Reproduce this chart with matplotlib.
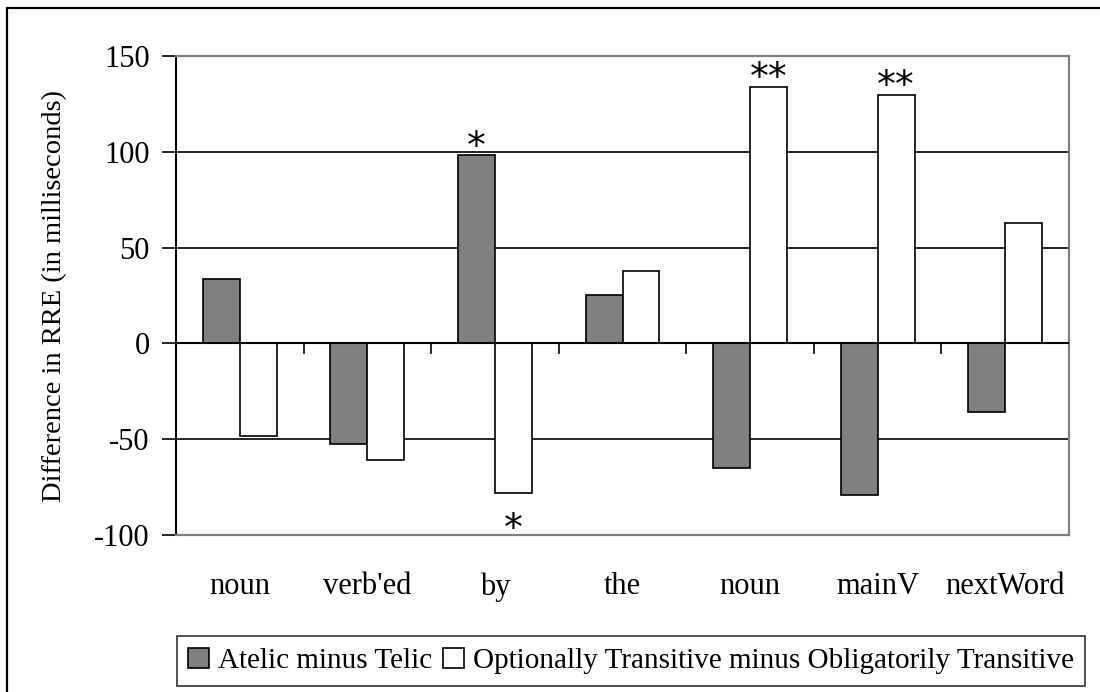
import numpy as np
import matplotlib
matplotlib.use('Agg')
import matplotlib.pyplot as plt
from matplotlib.patches import Rectangle

plt.rcParams['font.family'] = ['Liberation Serif', 'DejaVu Serif']

# datos
palabras = ['noun', "verb'ed", 'by', 'the', 'noun', 'mainV', 'nextWord']
atelic_telic = [33.6, -52.4, 98.1, 25.3, -65.0, -79.0, -35.7]
opt_oblig = [-48.5, -61.0, -78.2, 38.0, 134.0, 129.8, 62.9]
nombres = ['Atelic minus Telic', 'Optionally Transitive minus Obligatorily Transitive']
# asteriscos: (indice, serie, texto)
marcas = [(2, 0, '*'), (2, 1, '*'), (4, 1, '**'), (5, 1, '**')]

x = np.arange(len(palabras))
w = 0.29

fig = plt.figure(figsize=(11, 6.92), dpi=100)
ax = fig.add_axes([176/1100, 1 - 535/692, (1069-176)/1100, (535-56)/692])

# marco de la figura
fig.patches.append(Rectangle((7/1100, -0.05), 1.1, 1 - 8/692 + 0.05,
                             transform=fig.transFigure, fill=False,
                             edgecolor='black', linewidth=1.6))

ax.set_ylim(-100, 150)
ax.set_xlim(-0.5, len(palabras) - 0.5)
for yv in [-50, 50, 100]:
    ax.axhline(yv, color='black', linewidth=1.2, zorder=1)

b1 = ax.bar(x - w/2, atelic_telic, w, color='#808080', edgecolor='black',
            linewidth=1.2, label=nombres[0], zorder=3)
b2 = ax.bar(x + w/2, opt_oblig, w, color='white', edgecolor='black',
            linewidth=1.2, label=nombres[1], zorder=3)

series = [atelic_telic, opt_oblig]
fs_ast = 27
for i, s, txt in marcas:
    v = series[s][i]
    xp = x[i] + (w/2 if s else -w/2)
    yc = v + 10 if v >= 0 else -91.5
    ax.annotate(txt, (xp, yc), xytext=(0, -0.58 * fs_ast), textcoords='offset points',
                ha='center', va='baseline', fontsize=fs_ast, fontfamily='DejaVu Sans')

# eje cero con marcas entre categorias
ax.axhline(0, color='black', linewidth=1.5, zorder=4)
for xb in np.arange(0.5, len(palabras) - 0.5, 1):
    ax.plot([xb, xb], [0, -5.2], color='black', linewidth=1.2, zorder=4, clip_on=False)

ax.set_yticks([-100, -50, 0, 50, 100, 150])
ax.set_yticklabels(['-100', '-50', '0', '50', '100', '150'])
ax.tick_params(axis='y', direction='out', length=10, width=1.2, labelsize=22, pad=9)
ax.set_xticks(x)
ax.set_xticklabels(palabras)
ax.tick_params(axis='x', length=0, labelsize=22, pad=27)

ax.spines['left'].set_color('black')
ax.spines['left'].set_linewidth(1.5)
for sp in ['top', 'right', 'bottom']:
    ax.spines[sp].set_color('#808080')
    ax.spines[sp].set_linewidth(1.6)

ax.set_ylabel('Difference in RRE (in milliseconds)', fontsize=20.5)
ax.yaxis.set_label_coords(-109/893, 0.5)

leg = fig.legend(handles=[b1, b2], labels=nombres, loc='center',
                 bbox_to_anchor=(631/1100, 1 - 661/692), ncol=2, fontsize=21,
                 frameon=True, fancybox=False, edgecolor='black',
                 handlelength=0.7, handleheight=0.7, handletextpad=0.3,
                 columnspacing=0.4, borderpad=0.4, borderaxespad=0)
leg.get_frame().set_linewidth(1.2)

fig.savefig('out.png', dpi=100)
